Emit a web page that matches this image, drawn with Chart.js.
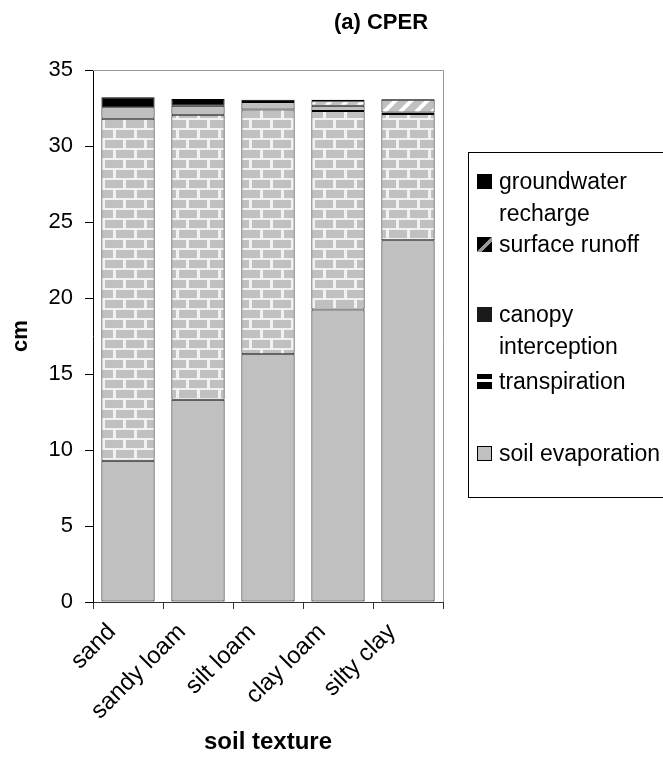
<!DOCTYPE html>
<html>
<head>
<meta charset="utf-8">
<script src="https://cdn.jsdelivr.net/npm/chart.js@4"></script>
<style>
  body { margin: 0; background: #fff; font-family: Arial, "Liberation Sans", sans-serif; }
  #wrap { position: relative; width: 663px; height: 761px; overflow: hidden; }
  #title { position: absolute; left: 321px; width: 120px; top: 11px; text-align: center; font-weight: bold; font-size: 22px; line-height: 22px; color: #000; }
  #legend { position: absolute; left: 468px; top: 152px; width: 240px; height: 346px; border: 1px solid #000; box-sizing: border-box; }
  .item { position: absolute; left: 8px; font-size: 23px; line-height: 32px; color: #000; }
  .item .box { position: absolute; left: 0; top: 9px; width: 15px; height: 15px; box-sizing: border-box; }
  .item .txt { position: absolute; left: 22px; white-space: nowrap; }
</style>
</head>
<body>
<div id="wrap">
  <canvas id="chart" width="663" height="761"></canvas>
  <div id="title">(a) CPER</div>
  <div id="legend"></div>
</div>
<script>
const categories = ['sand', 'sandy loam', 'silt loam', 'clay loam', 'silty clay'];
const soilEvaporation = [9.3, 13.3, 16.3, 19.25, 23.8];
const transpiration = [22.5, 18.75, 16.1, 13.05, 8.3];
const canopyInterception = [0.75, 0.6, 0.5, 0.35, 0.1];
const surfaceRunoff = [0, 0, 0, 0.3, 0.85];
const groundwaterRecharge = [0.65, 0.45, 0.15, 0.1, 0.05];
const yTicks = [0, 5, 10, 15, 20, 25, 30, 35];

// brick pattern (transpiration)
function brickPattern() {
    const c = document.createElement('canvas');
    c.width = 21; c.height = 20;
    const g = c.getContext('2d');
    g.fillStyle = '#f2f2f2';
    g.fillRect(0, 0, 21, 20);
    g.fillStyle = '#c0c0c0';
    g.fillRect(0, 0, 18, 8);
    g.fillRect(-10, 10, 18, 8);
    g.fillRect(11, 10, 18, 8);
    return g.createPattern(c, 'repeat');
}

// diagonal stripes (surface runoff)
function stripePattern() {
    const c = document.createElement('canvas');
    c.width = 16; c.height = 16;
    const g = c.getContext('2d');
    g.fillStyle = '#c0c0c0';
    g.fillRect(0, 0, 16, 16);
    g.strokeStyle = '#ffffff';
    g.lineWidth = 4;
    g.beginPath();
    for (let k = -16; k <= 32; k += 16) {
        g.moveTo(k, 16); g.lineTo(k + 16, 0);
    }
    g.stroke();
    return g.createPattern(c, 'repeat');
}

const series = [
    { label: 'soil evaporation', data: soilEvaporation, bg: '#c0c0c0' },
    { label: 'transpiration', data: transpiration, bg: brickPattern() },
    { label: 'canopy interception', data: canopyInterception, bg: '#c0c0c0' },
    { label: 'surface runoff', data: surfaceRunoff, bg: stripePattern() },
    { label: 'groundwater recharge', data: groundwaterRecharge, bg: '#000000' }
];

// legend like the reference
const legendItems = [
    { lines: ['groundwater', 'recharge'], top: 12, box: '#000' },
    { lines: ['surface runoff'], top: 75, box: 'linear-gradient(135deg, #000 0 50%, #999 50% 65%, #000 65%)' },
    { lines: ['canopy', 'interception'], top: 145, box: '#1a1a1a' },
    { lines: ['transpiration'], top: 212, box: 'linear-gradient(#000 0 35%, #fff 35% 55%, #000 55%)' },
    { lines: ['soil evaporation'], top: 284, box: '#c0c0c0', border: true }
];
const legendEl = document.getElementById('legend');
legendItems.forEach(it => {
    const d = document.createElement('div');
    d.className = 'item';
    d.style.top = it.top + 'px';
    const b = document.createElement('div');
    b.className = 'box';
    b.style.background = it.box;
    if (it.border) b.style.border = '1px solid #000';
    const t = document.createElement('div');
    t.className = 'txt';
    t.innerHTML = it.lines.join('<br>');
    d.appendChild(b);
    d.appendChild(t);
    legendEl.appendChild(d);
});

// gray frame on top and right of plot area
const frame = {
    id: 'frame',
    afterDraw(chart) {
        const a = chart.chartArea, g = chart.ctx;
        g.save();
        g.strokeStyle = '#999';
        g.lineWidth = 1;
        g.beginPath();
        g.moveTo(a.left, a.top + 0.5);
        g.lineTo(a.right + 0.5, a.top + 0.5);
        g.lineTo(a.right + 0.5, a.bottom);
        g.stroke();
        g.restore();
    }
};

const ctx = document.getElementById('chart').getContext('2d');
new Chart(ctx, {
    type: 'bar',
    data: {
        labels: categories,
        datasets: series.map(s => ({
            label: s.label,
            data: s.data,
            backgroundColor: s.bg,
            borderColor: '#000',
            borderWidth: 1,
            borderSkipped: false,
            barPercentage: 0.76,
            categoryPercentage: 1
        }))
    },
    options: {
        responsive: false,
        animation: false,
        layout: { padding: { top: 70, right: 220, left: 0, bottom: 0 } },
        plugins: { legend: { display: false }, tooltip: { enabled: false } },
        scales: {
            x: {
                stacked: true,
                afterFit: s => { s.height = 159; },
                border: { color: '#333', width: 1 },
                grid: { drawOnChartArea: false, tickLength: 7, color: '#333', offset: true },
                ticks: { color: '#000', maxRotation: 45, minRotation: 45, padding: 9, labelOffset: -16, font: { size: 24, family: 'Arial' } },
                title: { display: true, text: 'soil texture', color: '#000', font: { size: 24, weight: 'bold', family: 'Arial' }, padding: { top: 0, bottom: 4 } }
            },
            y: {
                stacked: true,
                min: 0,
                max: 35,
                afterFit: s => { s.width = 93; },
                afterBuildTicks: s => { s.ticks = yTicks.map(v => ({ value: v })); },
                border: { color: '#000', width: 1 },
                grid: { drawOnChartArea: false, tickLength: 8, color: '#000' },
                ticks: { color: '#000', padding: 12, font: { size: 22, family: 'Arial' } },
                title: { display: true, text: 'cm', color: '#000', font: { size: 22, weight: 'bold', family: 'Arial' }, padding: { top: 8, bottom: 0 } }
            }
        }
    },
    plugins: [frame]
});
</script>
</body>
</html>
